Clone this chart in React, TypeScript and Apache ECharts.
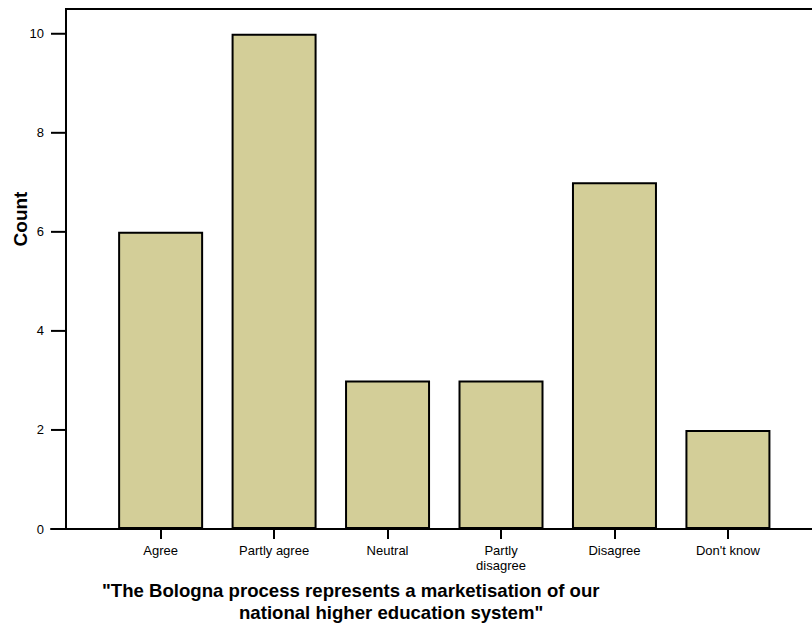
import React, { useEffect, useRef } from "react";
import * as echarts from "echarts";

const categories = ["Agree", "Partly agree", "Neutral", "Partly\ndisagree", "Disagree", "Don't know"];
const counts = [6, 10, 3, 3, 7, 2];
const yTicks = [0, 2, 4, 6, 8, 10];
const yMax = 10.5;
const yTitle = "Count";
const xTitleLines = [
  "\"The Bologna process represents a marketisation of our",
  "national higher education system\"",
];

const FONT = "'Liberation Sans', Arial, Helvetica, sans-serif";

export default function App() {
  const ref = useRef<HTMLDivElement>(null);
  useEffect(() => {
    if (!ref.current) return;
    const chart = echarts.init(ref.current, null, { renderer: "svg" });
    // categories sit at positions 1..6 on a value axis
    const pos = categories.map((_, i) => i + 1);
    const xMin = 0.0338;
    const xMax = 6.741;
    const frameX = 0.166; // x value where the vertical (count) axis line sits
    const TICK = 15;
    chart.setOption({
      animation: false,
      backgroundColor: "#ffffff",
      grid: {
        left: 51,
        top: 9,
        width: 761,
        height: 520,
      },
      xAxis: {
        type: "value",
        min: xMin,
        max: xMax,
        splitLine: { show: false },
        axisLine: { show: true, lineStyle: { color: "#000", width: 2 } },
        axisTick: {
          show: true,
          length: 10,
          inside: false,
          customValues: pos,
          lineStyle: { color: "#000", width: 2 },
        },
        axisLabel: {
          customValues: pos,
          formatter: (v: number) => categories[Math.round(v) - 1] ?? "",
          color: "#000",
          fontFamily: FONT,
          fontSize: 13,
          lineHeight: 15,
          margin: 14,
          align: "center",
        },
      },
      yAxis: {
        type: "value",
        min: 0,
        max: yMax,
        splitLine: { show: false },
        axisLine: { show: false },
        axisTick: { show: false },
        axisLabel: {
          customValues: yTicks,
          color: "#000",
          fontFamily: FONT,
          fontSize: 13,
          margin: 7,
        },
      },
      series: [
        {
          type: "bar",
          data: counts.map((v, i) => [pos[i], v]),
          barWidth: 85,
          itemStyle: { color: "#D3CE98", borderColor: "#000", borderWidth: 2 },
        },
        {
          // count-axis tick marks, placed through the axes' own scales
          type: "custom",
          silent: true,
          clip: false,
          z: 10,
          encode: { x: 0, y: 1 },
          data: yTicks.map((v) => [frameX, v]),
          renderItem: (_params: any, api: any) => {
            const p = api.coord([api.value(0), api.value(1)]);
            return {
              type: "line",
              shape: { x1: p[0] - TICK, y1: p[1], x2: p[0], y2: p[1] },
              style: { stroke: "#000", lineWidth: 2 },
            };
          },
        },
        {
          // count-axis line and top frame line
          type: "custom",
          silent: true,
          clip: false,
          z: 10,
          encode: { x: 0, y: 1 },
          data: [[frameX, yMax]],
          renderItem: (_params: any, api: any) => {
            const top = api.coord([frameX, yMax]);
            const bottom = api.coord([frameX, 0]);
            const right = api.coord([xMax, yMax]);
            return {
              type: "group",
              children: [
                {
                  type: "line",
                  shape: { x1: bottom[0], y1: bottom[1] + 1, x2: top[0], y2: top[1] - 1 },
                  style: { stroke: "#000", lineWidth: 2 },
                },
                {
                  type: "line",
                  shape: { x1: top[0] - 1, y1: top[1], x2: right[0], y2: right[1] },
                  style: { stroke: "#000", lineWidth: 2 },
                },
              ],
            };
          },
        },
      ],
      graphic: [
        {
          type: "text",
          x: 20,
          y: 219,
          rotation: Math.PI / 2,
          style: {
            text: yTitle,
            fontFamily: FONT,
            fontWeight: "bold",
            fontSize: 19,
            fill: "#000",
            textAlign: "center",
            textVerticalAlign: "middle",
          },
        },
        {
          type: "text",
          x: 102,
          y: 590,
          style: {
            text: xTitleLines[0],
            fontFamily: FONT,
            fontWeight: "bold",
            fontSize: 18.6,
            fill: "#000",
            textAlign: "left",
            textVerticalAlign: "middle",
          },
        },
        {
          type: "text",
          x: 239,
          y: 612,
          style: {
            text: xTitleLines[1],
            fontFamily: FONT,
            fontWeight: "bold",
            fontSize: 18.6,
            fill: "#000",
            textAlign: "left",
            textVerticalAlign: "middle",
          },
        },
      ],
    });
    return () => chart.dispose();
  }, []);
  return (
    <div
      ref={ref}
      style={{ position: "fixed", left: 0, top: 0, width: 812, height: 626, background: "#fff" }}
    />
  );
}
